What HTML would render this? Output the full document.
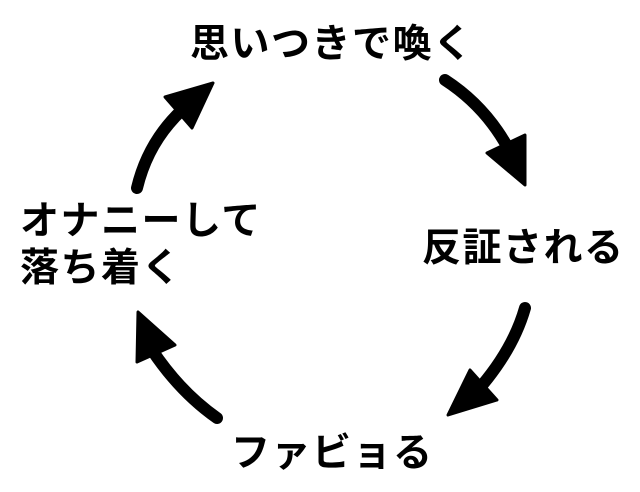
<!DOCTYPE html>
<html>
<head>
<meta charset="utf-8">
<style>
  html, body { margin: 0; padding: 0; background: #fff; }
  svg { display: block; }
  text { font-family: "Liberation Sans", "Noto Sans CJK JP", sans-serif; font-weight: 700; font-size: 39px; fill: #000; letter-spacing: 1.5px; }
</style>
</head>
<body>
<svg width="640" height="492" viewBox="0 0 640 492" xmlns="http://www.w3.org/2000/svg">
  <rect width="640" height="492" fill="#fff"/>
  <text x="190" y="57">思いつきで喚く</text>
  <text x="422" y="261">反証される</text>
  <text x="20" y="234">オナニーして</text>
  <text x="20" y="281">落ち着く</text>
  <text x="231" y="466">ファビョる</text>

  <g fill="none" stroke="#000" stroke-width="12" stroke-linecap="round">
    <path d="M445,80 Q485,106 508,148"/>
    <path d="M137,188 Q148,142 182,110"/>
    <path d="M525,308 Q513,350 478,390"/>
    <path d="M217,418 Q180,392 152,350"/>
  </g>
  <g fill="#000" stroke="#000" stroke-width="3" stroke-linejoin="round">
    <polygon points="525,185 487,153 525,135"/>
    <polygon points="213,83 165,97 192,128"/>
    <polygon points="448,415 470,370 497,400"/>
    <polygon points="138,312 137,362 175,345"/>
  </g>
</svg>
</body>
</html>
